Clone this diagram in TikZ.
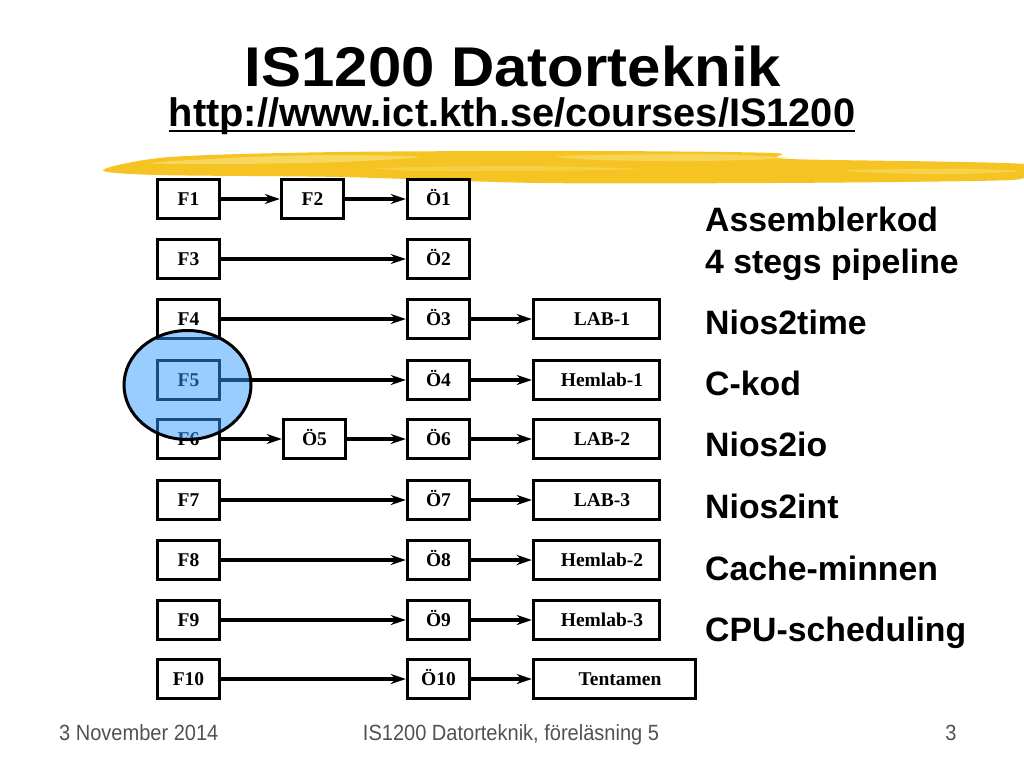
\documentclass[tikz,border=0pt]{standalone}
\usepackage{fontspec}
\setmainfont{Liberation Sans}
\newfontfamily\boxfont{Liberation Serif}
\usetikzlibrary{arrows.meta}
\definecolor{brush}{RGB}{245,196,34}
\definecolor{brushlight}{RGB}{250,224,120}
\definecolor{mark}{RGB}{51,153,255}
\definecolor{footgray}{RGB}{85,80,80}
\begin{document}
\begin{tikzpicture}[x=1pt,y=-1pt,
	box/.style={draw, line width=3.4pt, inner sep=0pt, minimum width=62pt, minimum height=39pt, text height=13.5pt, text depth=0pt, font=\boxfont\bfseries\fontsize{19.5}{21}\selectfont},
	labbox/.style={box, minimum width=126pt, execute at begin node=\hspace*{11pt}},
	topic/.style={anchor=base west, inner sep=0pt, font=\bfseries\fontsize{33.8}{38}\selectfont},
	foot/.style={anchor=base, inner sep=0pt, text=footgray, font=\fontsize{22}{24}\selectfont},
	flow/.style={-{Stealth[length=15pt,width=10pt]}, line width=3.2pt}]
			\useasboundingbox (0,0) rectangle (1024,768);
		
			\node[anchor=base, inner sep=0pt, font=\bfseries\fontsize{56}{60}\selectfont] (title) at (513,86) {\scalebox{1.07}[1]{IS1200 Datorteknik}};
			\node[anchor=base, inner sep=0pt, font=\bfseries\fontsize{39.8}{42}\selectfont] (url) at (512,126) {http://www.ict.kth.se/courses/IS1200};
			\draw[line width=2.5pt] ([yshift=-5pt]url.base west) -- ([yshift=-5pt]url.base east);
			
			\fill[brush] plot[smooth cycle] coordinates {(103,170) (170,157) (340,152) (590,151) (773,153) (790,159) (1024,164) (1024,178) (973,181) (773,183) (540,183) (340,177) (157,175)};
			\fill[brushlight, opacity=0.7] plot[smooth cycle] coordinates {(150,163) (250,157) (340,155) (420,157) (340,162) (230,164)};
			\fill[brushlight, opacity=0.6] plot[smooth cycle] coordinates {(560,156) (700,154) (790,158) (700,161) (600,160)};
			\fill[brushlight, opacity=0.5] plot[smooth cycle] coordinates {(850,170) (960,169) (1020,171) (960,174) (880,173)};
			\fill[brushlight, opacity=0.4] plot[smooth cycle] coordinates {(380,168) (520,166) (640,169) (520,171) (420,171)};
			
			\node[box] (f1) at (188.5,199) {F1};
			\node[box] (f2) at (312.5,199) {F2};
			\node[box] (o1) at (438.5,199) {Ö1};
			\node[box] (f3) at (188.5,259) {F3};
			\node[box] (o2) at (438.5,259) {Ö2};
			\node[box] (f4) at (188.5,319) {F4};
			\node[box] (o3) at (438.5,319) {Ö3};
			\node[labbox] (lab1) at (596.5,319) {LAB-1};
			\node[box] (f5) at (188.5,380) {F5};
			\node[box] (o4) at (438.5,380) {Ö4};
			\node[labbox] (hem1) at (596.5,380) {Hemlab-1};
			\node[box] (f6) at (188.5,439) {F6};
			\node[box] (o5) at (314.5,439) {Ö5};
			\node[box] (o6) at (438.5,439) {Ö6};
			\node[labbox] (lab2) at (596.5,439) {LAB-2};
			\node[box] (f7) at (188.5,500) {F7};
			\node[box] (o7) at (438.5,500) {Ö7};
			\node[labbox] (lab3) at (596.5,500) {LAB-3};
			\node[box] (f8) at (188.5,560) {F8};
			\node[box] (o8) at (438.5,560) {Ö8};
			\node[labbox] (hem2) at (596.5,560) {Hemlab-2};
			\node[box] (f9) at (188.5,620) {F9};
			\node[box] (o9) at (438.5,620) {Ö9};
			\node[labbox] (hem3) at (596.5,620) {Hemlab-3};
			\node[box] (f10) at (188.5,679) {F10};
			\node[box] (o10) at (438.5,679) {Ö10};
			\node[labbox, minimum width=162pt] (tenta) at (614.5,679) {Tentamen};
			
			\draw[flow] (f1) -- (f2);
			\draw[flow] (f2) -- (o1);
			\draw[flow] (f3) -- (o2);
			\draw[flow] (f4) -- (o3);
			\draw[flow] (o3) -- (lab1);
			\draw[flow] (f5) -- (o4);
			\draw[flow] (o4) -- (hem1);
			\draw[flow] (f6) -- (o5);
			\draw[flow] (o5) -- (o6);
			\draw[flow] (o6) -- (lab2);
			\draw[flow] (f7) -- (o7);
			\draw[flow] (o7) -- (lab3);
			\draw[flow] (f8) -- (o8);
			\draw[flow] (o8) -- (hem2);
			\draw[flow] (f9) -- (o9);
			\draw[flow] (o9) -- (hem3);
			\draw[flow] (f10) -- (o10);
			\draw[flow] (o10) -- (tenta);
			
			\draw[line width=3pt, fill=mark, fill opacity=0.5] (187.5,385) ellipse (63.5 and 54.5);
			
			\node[topic] (t1) at (705,231) {Assemblerkod};
			\node[topic] (t2) at (705,273) {4 stegs pipeline};
			\node[topic] (t3) at (705,334) {Nios2time};
			\node[topic] (t4) at (705,395) {C-kod};
			\node[topic] (t5) at (705,456) {Nios2io};
			\node[topic] (t6) at (705,518) {Nios2int};
			\node[topic] (t7) at (705,580) {Cache-minnen};
			\node[topic] (t8) at (705,641) {CPU-scheduling};
			
			\node[foot, anchor=base west] (date) at (59,740) {\scalebox{0.91}[1]{3 November 2014}};
			\node[foot] (course) at (511,740) {\scalebox{0.91}[1]{IS1200 Datorteknik, föreläsning 5}};
			\node[foot] (page) at (951,740) {\scalebox{0.91}[1]{3}};
		\end{tikzpicture}
\end{document}
